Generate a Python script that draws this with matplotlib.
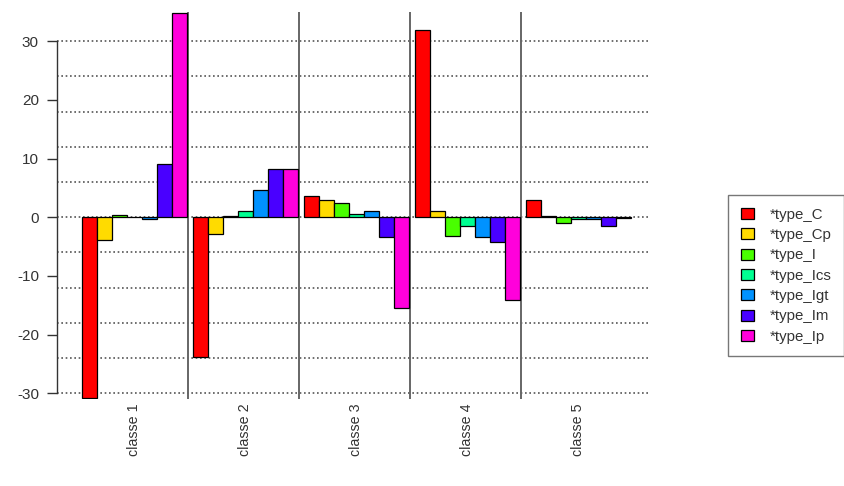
import matplotlib
matplotlib.use("Agg")
import matplotlib.pyplot as plt
import numpy as np

plt.rcParams['font.family'] = ['Liberation Sans', 'DejaVu Sans']
plt.rcParams['axes.unicode_minus'] = False

# data
classes = ['classe 1', 'classe 2', 'classe 3', 'classe 4', 'classe 5']
types = ['*type_C', '*type_Cp', '*type_I', '*type_Ics', '*type_Igt', '*type_Im', '*type_Ip']
type_C = [-30.9, -23.9, 3.6, 31.9, 2.9]
type_Cp = [-3.8, -2.8, 3.0, 1.0, 0.2]
type_I = [0.4, 0.2, 2.4, -3.2, -1.0]
type_Ics = [0.1, 1.0, 0.6, -1.5, -0.3]
type_Igt = [-0.3, 4.6, 1.0, -3.4, -0.3]
type_Im = [9.0, 8.2, -3.4, -4.2, -1.5]
type_Ip = [34.8, 8.2, -15.5, -14.1, -0.1]
series = [type_C, type_Cp, type_I, type_Ics, type_Igt, type_Im, type_Ip]

# R rainbow(7)
colors = ['#FF0000', '#FFDB00', '#49FF00', '#00FF92', '#0092FF', '#4900FF', '#FF00DB']

fig = plt.figure(figsize=(8.45, 4.86), dpi=100)
ax = fig.add_axes([57 / 845, 87 / 486, 593 / 845, 387 / 486])

n = len(types)
gstep = n + 0.4
group_x = np.arange(len(classes)) * gstep

# dotted grid every 6 units
for yv in np.arange(-30, 31, 6):
    ax.axhline(yv, color='#555555', lw=1.2, ls=(0, (1, 1.6)), zorder=1)

handles = []
for i, (vals, col) in enumerate(zip(series, colors)):
    h = ax.bar(group_x + i + 0.5, vals, width=1.0, color=col,
               edgecolor='black', linewidth=0.9, zorder=3)
    handles.append(h)

# separators between groups
for g in range(1, len(classes)):
    ax.axvline(g * gstep - 0.35, color='#666666', lw=1.4, zorder=2)

ax.set_xlim(-1.667, 37.87)
ax.set_ylim(-31.0, 35.0)

for side in ['top', 'right', 'bottom']:
    ax.spines[side].set_visible(False)
ax.spines['left'].set_bounds(-30, 30)
ax.spines['left'].set_color('#333333')
ax.spines['left'].set_linewidth(1.0)

ax.set_yticks([-30, -20, -10, 0, 10, 20, 30])
ax.tick_params(axis='y', length=7, width=1.0, color='#333333',
               labelsize=11, labelcolor='#333333', pad=6)

ax.set_xticks(group_x + n / 2)
ax.set_xticklabels(classes, rotation=90, fontsize=10.3, color='#333333')
ax.tick_params(axis='x', length=0, pad=3)

fig.legend(handles, types, loc='upper left', bbox_to_anchor=(728 / 845, 1 - 195 / 486),
           frameon=True, fancybox=False, edgecolor='#555555', fontsize=10.8,
           handlelength=0.9, handleheight=0.75, handletextpad=1.0,
           labelspacing=0.42, borderpad=0.85, borderaxespad=0,
           labelcolor='#333333')

fig.savefig('out.png', dpi=100)
